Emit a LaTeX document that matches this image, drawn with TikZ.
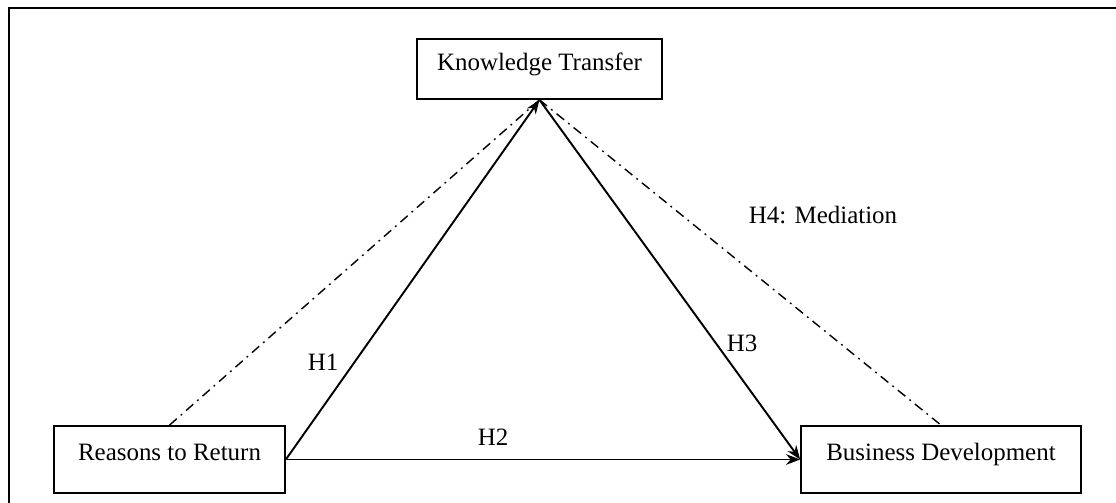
\documentclass[tikz,border=0pt]{standalone}
\usepackage{fontspec}
\setmainfont{Liberation Serif}
\usetikzlibrary{arrows.meta, positioning}

\begin{document}
\begin{tikzpicture}[
  x=0.02cm, y=-0.02cm,
  font=\fontsize{14.2}{17}\selectfont,
  varbox/.style={draw, line width=1pt, inner sep=0pt, minimum height=1.34cm,
    text height=0.68cm, text depth=0.66cm},
  path/.style={line width=1.1pt, -{Stealth[length=8pt, width=6pt]}},
  medpath/.style={line width=0.8pt, dash pattern=on 5.5pt off 3pt on 1pt off 3pt},
  hlabel/.style={inner sep=1pt},
  ]
\useasboundingbox (0,0) rectangle (1116,503);
% frame
\draw[line width=1.2pt] (1116,8) -- (9,8) -- (9,503);

% variables
\node[varbox, minimum width=4.9cm, minimum height=1.2cm,
  text height=0.64cm, text depth=0.56cm] (kt) at (539.5,69) {Knowledge Transfer};
\node[varbox, minimum width=4.62cm] (rr) at (169.5,459.5) {Reasons to Return};
\node[varbox, minimum width=5.6cm] (bd) at (941,459.5) {Business Development};

% direct paths
\draw[path] (rr.east) -- (kt.south);
\draw[path] (rr.east) -- (bd.west);
\draw[path] (kt.south) -- (bd.west);

% mediation
\draw[medpath] (rr.north) -- (kt.south);
\draw[medpath] (kt.south) -- (bd.north);

\node[hlabel] (h1) at (323,362) {H1};
\node[hlabel] (h2) at (493,437) {H2};
\node[hlabel] (h3) at (742,343) {H3};
\node[hlabel] (h4) at (823,215) {H4: Mediation};
\end{tikzpicture}
\end{document}
